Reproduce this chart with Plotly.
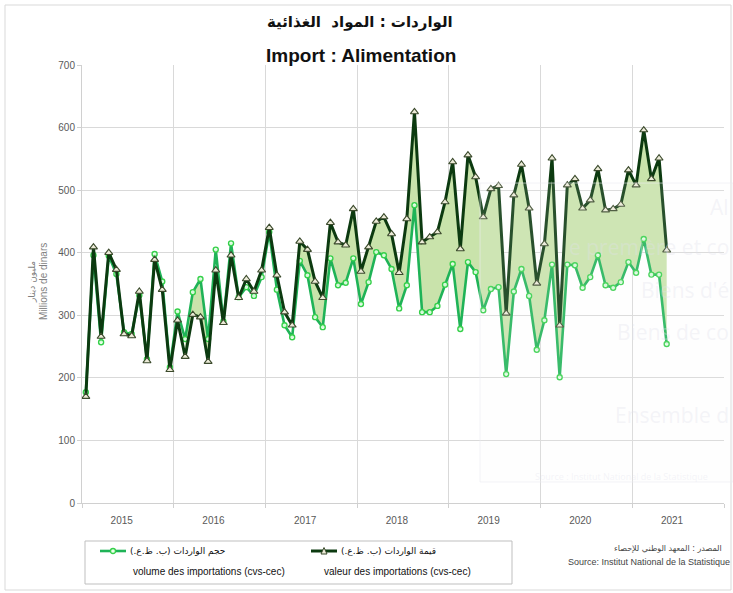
import plotly.graph_objects as go

# ---------------- data ----------------
years = ["2015", "2016", "2017", "2018", "2019", "2020", "2021"]

# monthly values, Jan 2015 .. May 2021 (millions de dinars)
valeur = [170, 409, 266, 400, 373, 270, 267, 338, 227, 389, 341, 213,
          292, 234, 301, 297, 226, 372, 288, 396, 328, 358, 338, 372,
          440, 364, 305, 284, 418, 405, 354, 328, 448, 417, 412, 470,
          370, 409, 450, 457, 430, 368, 454, 625, 417, 425, 433, 481,
          545, 406, 556, 521, 457, 502, 507, 303, 492, 541, 471, 351,
          414, 551, 284, 508, 518, 471, 484, 534, 468, 470, 477, 532,
          508, 596, 518, 551, 404]

volume = [177, 396, 257, 395, 366, 273, 270, 332, 230, 398, 354, 217,
          306, 262, 337, 358, 262, 405, 290, 415, 329, 345, 331, 361,
          433, 341, 284, 265, 387, 364, 297, 281, 391, 348, 352, 391,
          318, 353, 401, 396, 374, 311, 348, 476, 305, 305, 315, 349,
          382, 278, 385, 369, 308, 342, 345, 206, 338, 374, 331, 245,
          292, 381, 201, 381, 380, 344, 361, 396, 348, 344, 353, 385,
          368, 422, 365, 365, 254]

y_ticks = [0, 100, 200, 300, 400, 500, 600, 700]

# shaded spans (index ranges) between the two series
fill_spans = [(13, 16), (28, 76)]

title_ar = "الواردات : المواد  الغذائية"
title_fr = "Import : Alimentation"
ytitle_ar = "مليون دينار"
ytitle_fr = "Millions de dinars"
leg_vol_ar = "حجم الواردات (ب. ظ.ع.)"
leg_vol_fr = "volume des importations (cvs-cec)"
leg_val_ar = "قيمة الواردات (ب. ظ.ع.)"
leg_val_fr = "valeur des importations (cvs-cec)"
src_ar = "المصدر : المعهد الوطني للإحصاء"
src_fr = "Source: Institut National de la Statistique"

# ---------------- layout geometry ----------------
W, H = 733, 593
L, R, T, B = 82, 9, 65, 90
PW, PH = W - L - R, H - T - B


def px(x):
    return (x - L) / PW


def py(y):
    return (H - B - y) / PH


n = len(valeur)
xs = list(range(n))
C_DARK = "#0c3a10"
C_GREEN = "#1fb357"
C_FILL = "#c9e3ab"
FONT = "Liberation Sans Narrow, Liberation Sans, Arial, sans-serif"
AR_FONT = "DejaVu Sans, Noto Sans, sans-serif"

fig = go.Figure()

# shaded area between series
for a, b in fill_spans:
    seg = list(range(a, b + 1))
    fig.add_trace(go.Scatter(x=seg, y=[volume[i] for i in seg], mode="lines",
                             line=dict(width=0, color=C_FILL), showlegend=False,
                             hoverinfo="skip"))
    fig.add_trace(go.Scatter(x=seg, y=[valeur[i] for i in seg], mode="lines",
                             line=dict(width=0, color=C_FILL), fill="tonexty",
                             fillcolor=C_FILL, showlegend=False, hoverinfo="skip"))

fig.add_trace(go.Scatter(
    x=xs, y=volume, mode="lines+markers", name=leg_vol_fr,
    line=dict(color=C_GREEN, width=2.6),
    marker=dict(symbol="circle", size=5, color="rgba(235,255,235,0.9)",
                line=dict(color="#35d04a", width=1.4)),
    showlegend=False))

fig.add_trace(go.Scatter(
    x=xs, y=valeur, mode="lines+markers", name=leg_val_fr,
    line=dict(color=C_DARK, width=3),
    marker=dict(symbol="triangle-up", size=7, color="#ecebd8",
                line=dict(color="#3b4a2c", width=1.1)),
    showlegend=False))

boundaries = [12 * k - 0.5 for k in range(len(years) + 1)]
label_pos = [12 * k + 4.7 for k in range(len(years))]

fig.update_layout(
    width=W, height=H,
    margin=dict(l=L, r=R, t=T, b=B),
    paper_bgcolor="white", plot_bgcolor="white",
    showlegend=False,
    xaxis=dict(range=[boundaries[0], boundaries[-1]], tickvals=label_pos,
               ticktext=years, showgrid=False, zeroline=False,
               ticks="", ticklabelstandoff=8,
               tickfont=dict(family=FONT, size=10, color="#595959"),
               showline=True, linecolor="#d0d0d0", linewidth=1,
               minor=dict(tickvals=boundaries, showgrid=True,
                          gridcolor="#d9d9d9", gridwidth=1.2,
                          ticks="outside", ticklen=4, tickcolor="#d0d0d0")),
    yaxis=dict(range=[0, 700], tickvals=y_ticks, showgrid=True,
               gridcolor="#d9d9d9", gridwidth=1.2, zeroline=False,
               showline=True, linecolor="#d0d0d0", linewidth=1,
               ticks="outside", ticklen=4, tickcolor="#d0d0d0",
               tickfont=dict(family=FONT, size=10, color="#595959")),
)

ann = []
# titles
ann.append(dict(x=px(360), y=py(22), text="<b>" + title_ar + "</b>",
                font=dict(family=AR_FONT, size=15, color="#111")))
ann.append(dict(x=px(361), y=py(55), text="<b>" + title_fr + "</b>",
                font=dict(family=FONT, size=19, color="#111")))
# y-axis title (two lines rotated)
ann.append(dict(x=px(32), y=py(282), text=ytitle_ar, textangle=-90,
                font=dict(family=AR_FONT, size=9, color="#7f7f7f")))
ann.append(dict(x=px(43), y=py(282), text=ytitle_fr, textangle=-90,
                font=dict(family=FONT, size=10, color="#7f7f7f")))
# legend texts
ann.append(dict(x=px(128), y=py(551), text=leg_vol_ar, xanchor="left",
                font=dict(family=AR_FONT, size=9, color="#111")))
ann.append(dict(x=px(131), y=py(571), text=leg_vol_fr, xanchor="left",
                font=dict(family=FONT, size=10, color="#111")))
ann.append(dict(x=px(339), y=py(551), text=leg_val_ar, xanchor="left",
                font=dict(family=AR_FONT, size=9, color="#111")))
ann.append(dict(x=px(322), y=py(571), text=leg_val_fr, xanchor="left",
                font=dict(family=FONT, size=10, color="#111")))
# source
ann.append(dict(x=px(724), y=py(549), text=src_ar, xanchor="right",
                font=dict(family=AR_FONT, size=8, color="#444")))
ann.append(dict(x=px(732), y=py(562), text=src_fr, xanchor="right",
                font=dict(family=FONT, size=9, color="#444")))
# faint watermark texts (ghost of another chart), right-aligned at the edge
ghost = [(731, 207, "Al", 21), (731, 247, "e première et co", 21),
         (731, 290, "Biens d'é", 21), (731, 332, "Biens de co", 21),
         (731, 415, "Ensemble d", 21),
         (710, 476, "Source : Institut National de la Statistique", 9)]
for gx, gy, gt, gs in ghost:
    ann.append(dict(x=px(gx), y=py(gy), text=gt, xanchor="right",
                    font=dict(family="Open Sans, sans-serif", size=gs,
                              color="rgba(225,225,236,0.35)")))

for a in ann:
    a.update(xref="paper", yref="paper", showarrow=False)
    a.setdefault("xanchor", "center")
    a.setdefault("yanchor", "middle")
fig.update_layout(annotations=ann)

shapes = []
# outer frame
shapes.append(dict(type="rect", xref="paper", yref="paper",
                   x0=px(5), x1=px(731), y0=py(590), y1=py(5),
                   line=dict(color="#d9d9d9", width=1)))
# ghost rectangle
shapes.append(dict(type="rect", xref="paper", yref="paper",
                   x0=px(480), x1=px(733), y0=py(482), y1=py(183),
                   line=dict(width=1, color="rgba(235,235,242,0.6)"),
                   fillcolor="rgba(245,245,250,0.12)", layer="above"))
# legend box
shapes.append(dict(type="rect", xref="paper", yref="paper",
                   x0=px(85), x1=px(512), y0=py(584), y1=py(541),
                   line=dict(color="#bfbfbf", width=1)))
# legend line samples
shapes.append(dict(type="line", xref="paper", yref="paper",
                   x0=px(100), x1=px(126), y0=py(551), y1=py(551),
                   line=dict(color=C_GREEN, width=2.6)))
shapes.append(dict(type="circle", xref="paper", yref="paper",
                   x0=px(110.5), x1=px(115.5), y0=py(553.5), y1=py(548.5),
                   fillcolor="#ebffeb", line=dict(color="#35d04a", width=1.3)))
shapes.append(dict(type="line", xref="paper", yref="paper",
                   x0=px(311), x1=px(337), y0=py(551), y1=py(551),
                   line=dict(color=C_DARK, width=3)))
shapes.append(dict(type="path", xref="paper", yref="paper",
                   path="M {} {} L {} {} L {} {} Z".format(
                       px(321), py(554), px(327), py(554), px(324), py(547.5)),
                   fillcolor="#ecebd8", line=dict(color="#3b4a2c", width=1)))
fig.update_layout(shapes=shapes)

fig.write_html("out.html", config={"displayModeBar": False},
               post_script="document.body.style.margin='0';")
